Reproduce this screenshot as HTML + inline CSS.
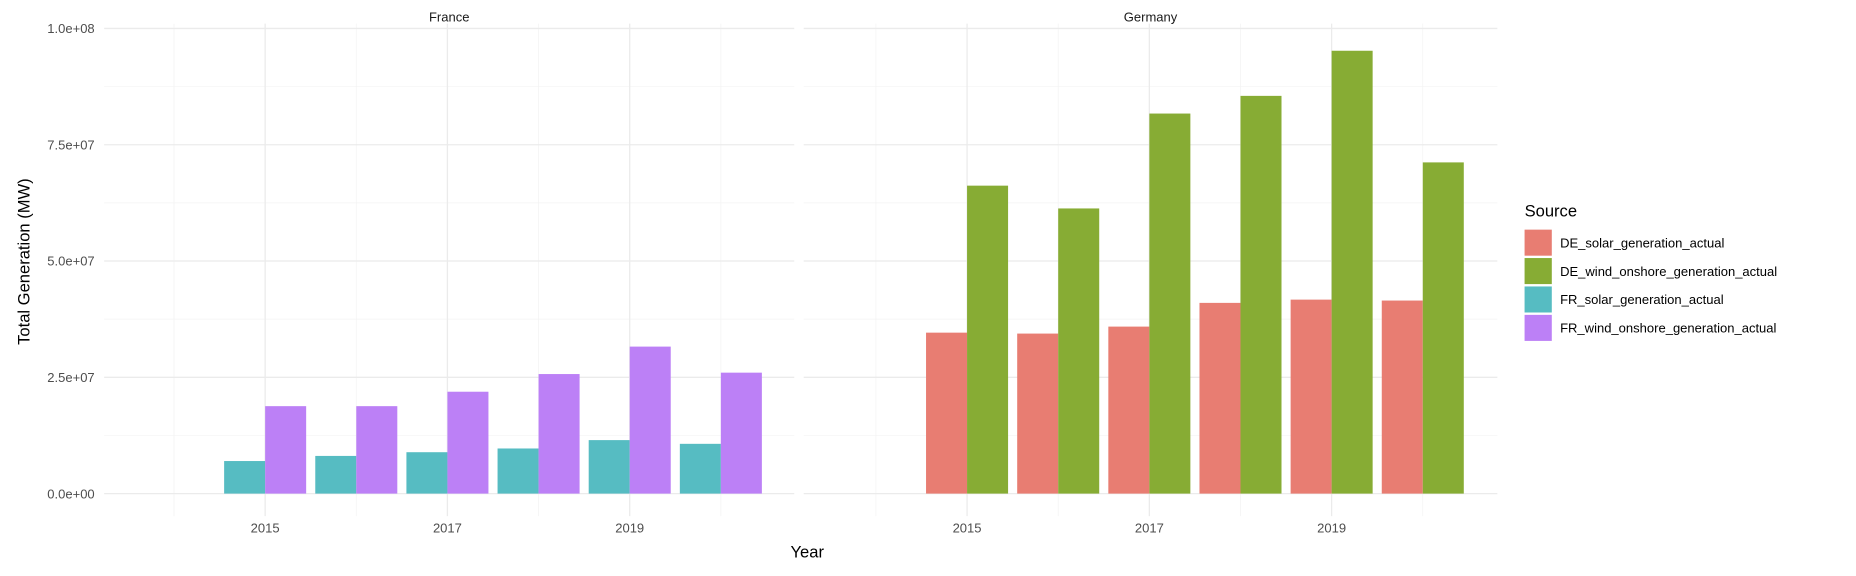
<!DOCTYPE html>
<html><head><meta charset="utf-8"><style>
html,body{margin:0;padding:0;background:#fff;}
svg{display:block;font-family:"Liberation Sans",Arial,sans-serif;}
</style></head><body>
<svg id="chart" width="1856" height="576" viewBox="0 0 1568 486.6" xmlns="http://www.w3.org/2000/svg"></svg>
<script>
const years = [2015, 2016, 2017, 2018, 2019, 2020];
const frSolar = [7.0e6, 8.1e6, 8.9e6, 9.7e6, 11.5e6, 10.7e6];
const frWind = [18.8e6, 18.8e6, 21.9e6, 25.7e6, 31.6e6, 26.0e6];
const deSolar = [34.6e6, 34.4e6, 35.9e6, 41.0e6, 41.7e6, 41.5e6];
const deWind = [66.2e6, 61.3e6, 81.7e6, 85.5e6, 95.2e6, 71.2e6];
const yTicks = [0, 2.5e7, 5e7, 7.5e7, 1e8];
const yTickLabels = ["0.0e+00", "2.5e+07", "5.0e+07", "7.5e+07", "1.0e+08"];
const xTicks = [2015, 2017, 2019];
const xMinor = [2014, 2016, 2018, 2020];
const legendLabels = ["DE_solar_generation_actual","DE_wind_onshore_generation_actual","FR_solar_generation_actual","FR_wind_onshore_generation_actual"];
const legendColors = ["#E87D72","#87AC34","#56BCC2","#BC80F6"];

const svg = document.getElementById('chart');
const NS = 'http://www.w3.org/2000/svg';
function mk(tag, attrs, parent){const e=document.createElementNS(NS,tag);for(const k in attrs)e.setAttribute(k,attrs[k]);(parent||svg).appendChild(e);return e;}
const y0 = 417, yPerUnit = 393/1e8;
const yS = v => y0 - v*yPerUnit;
const panels = [
 {name:'France', left:88, right:671, x2015:224, s1:frSolar, s2:frWind, c1:legendColors[2], c2:legendColors[3]},
 {name:'Germany', left:679, right:1265, x2015:817, s1:deSolar, s2:deWind, c1:legendColors[0], c2:legendColors[1]}
];
const pxYear = 77;
panels.forEach(p=>{
  const xS = yr => p.x2015 + (yr-2015)*pxYear;
  const g = mk('g',{});
  
  
  // minor y grid
  for(let i=0;i<yTicks.length-1;i++){
    const l=mk('line',{x1:p.left,x2:p.right,y1:yS((yTicks[i]+yTicks[i+1])/2),y2:yS((yTicks[i]+yTicks[i+1])/2),stroke:'#f3f3f3','stroke-width':0.6},g);
    
    
  }
  xMinor.forEach(yr=>{
    const l=mk('line',{x1:xS(yr),x2:xS(yr),y1:24-4,y2:436,stroke:'#f3f3f3','stroke-width':0.6},g);
    
    
  });
  yTicks.forEach(t=>{
    const l=mk('line',{x1:p.left,x2:p.right,y1:yS(t),y2:yS(t),stroke:'#ebebeb','stroke-width':1.1},g);
    
    
  });
  xTicks.forEach(t=>{
    const l=mk('line',{x1:xS(t),x2:xS(t),y1:20,y2:436,stroke:'#ebebeb','stroke-width':1.1},g);
    
    
    const tx=mk('text',{x:xS(t),y:450,'text-anchor':'middle','font-size':11,fill:'#4d4d4d'},g);
    tx.textContent=t;
    
    
  });
  const st=mk('text',{x:(p.left+p.right)/2,y:18,'text-anchor':'middle','font-size':11,fill:'#1a1a1a'},g);
  st.textContent=p.name;
  
  
  const bw = 0.45*pxYear;
  years.forEach((yr,i)=>{
    const cx=xS(yr);
    const b1=mk('rect',{x:cx-bw,y:yS(p.s1[i]),width:bw,height:y0-yS(p.s1[i]),fill:p.c1},g);
    
    
    const b2=mk('rect',{x:cx,y:yS(p.s2[i]),width:bw,height:y0-yS(p.s2[i]),fill:p.c2},g);
    
    
  });
});
yTicks.forEach((t,i)=>{
  const tx=mk('text',{x:80,y:yS(t)+4,'text-anchor':'end','font-size':11,fill:'#4d4d4d'});
  tx.textContent=yTickLabels[i];
  
  
});
const xt=mk('text',{x:682,y:471,'text-anchor':'middle','font-size':14,fill:'#000'});
xt.textContent='Year';


const yt=mk('text',{x:25,y:221,'text-anchor':'middle','font-size':14,fill:'#000',transform:'rotate(-90 25 221)'});
yt.textContent='Total Generation (MW)';


const lt=mk('text',{x:1288,y:183,'font-size':14,fill:'#000'});
lt.textContent='Source';


legendLabels.forEach((lab,i)=>{
  const top=194+i*24;
  const r=mk('rect',{x:1288,y:top,width:23,height:22,fill:legendColors[i]});
  
  
  const t=mk('text',{x:1318,y:top+15,'font-size':11,fill:'#000'});
  t.textContent=lab;
  
  
});
</script>
</body></html>
